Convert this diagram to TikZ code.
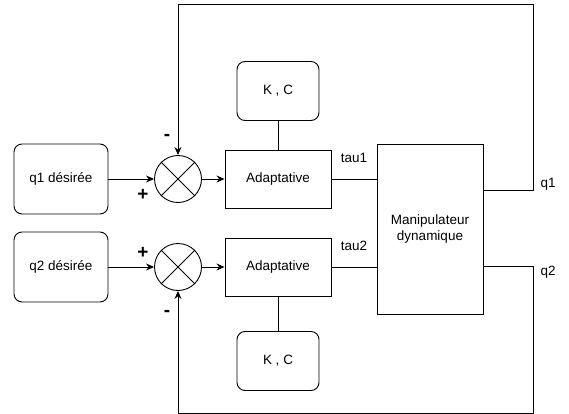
\documentclass[tikz,border=0pt]{standalone}
\usepackage{fontspec}
\setmainfont{Liberation Sans}
\usetikzlibrary{positioning,arrows.meta}

\begin{document}
\begin{tikzpicture}[x=1pt,y=1pt,node distance=88pt,on grid,line width=0.9pt,
	>={Stealth[length=8pt,width=7pt]},font=\fontsize{13.5}{16}\selectfont,
	blk/.style={draw,minimum width=106pt},
	rblk/.style={draw,rounded corners=8pt},
	sum/.style={draw,circle,minimum size=47pt,inner sep=0pt},
	sign/.style={font=\fontsize{19}{19}\selectfont\bfseries}]
\useasboundingbox (0,0) rectangle (569,-414);
% inputs and comparators
\node[rblk,minimum width=94pt,minimum height=70pt] (d1) at (61,-179) {q1 désirée};
\node[rblk,minimum width=94pt,minimum height=70pt] (d2) [below=of d1] {q2 désirée};
\node[sum] (s1) [right=117pt of d1] {};
\node[sum] (s2) [right=117pt of d2] {};
\foreach \s in {s1,s2} \draw (\s.north west) -- (\s.south east) (\s.north east) -- (\s.south west);
% controllers
\node[blk,minimum height=58pt] (a1) [right=100pt of s1] {Adaptative};
\node[blk,minimum height=58pt] (a2) [right=100pt of s2] {Adaptative};
\node[rblk,minimum width=82pt,minimum height=59pt] (k1) [above=of a1] {K , C};
\node[rblk,minimum width=82pt,minimum height=59pt] (k2) [below=94pt of a2] {K , C};
\node[blk,minimum height=170pt,align=center] (m) at (430,-229) {Manipulateur\\dynamique};
\coordinate (t1) at (533,-4);
\coordinate (t2) at (533,-413);
\path[->] (d1) edge (s1) (s1) edge (a1) (d2) edge (s2) (s2) edge (a2);
\draw (k1) -- (a1) (k2) -- (a2);
\draw (a1) -- node[midway,above=16pt,inner sep=0pt] {tau1} (a1 -| m.west);
\draw (a2) -- node[midway,above=16pt,inner sep=0pt] {tau2} (a2 -| m.west);
% feedback
\draw[->] ([yshift=39pt]m.east) -| (t1) -| (s1.north);
\draw[->] ([yshift=-37pt]m.east) -| (t2) -| (s2.south);
\node (q1) at (548,-184) {q1};
\node (q2) at (548,-272) {q2};
\node[sign] at ([shift={(-35pt,-16pt)}]s1) {+};
\node[sign] at ([shift={(-11pt,42pt)}]s1) {-};
\node[sign] at ([shift={(-35pt,14pt)}]s2) {+};
\node[sign] at ([shift={(-11pt,-46pt)}]s2) {-};
\end{tikzpicture}
\end{document}
